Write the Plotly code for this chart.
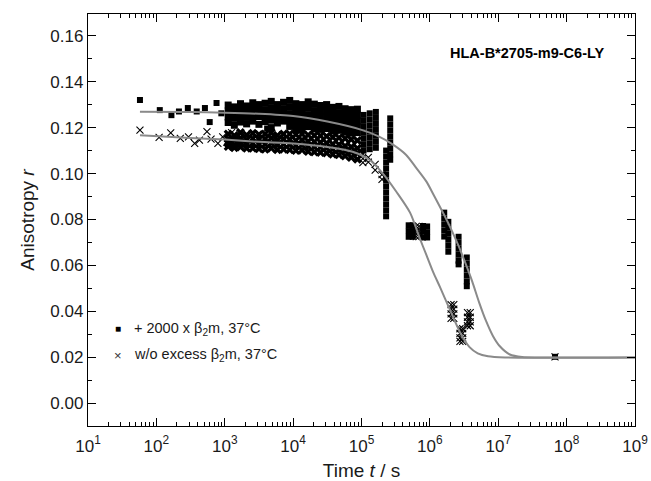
import plotly.graph_objects as go

# ---------------- data (times given as log10(t / s) readings) ----------------
# fitted curves
fit_hi_logt = [1.76, 2.50, 3.00, 3.50, 4.00, 4.50, 5.00, 5.25, 5.45, 5.65, 5.80, 5.95, 6.05, 6.20,
               6.30, 6.42, 6.52, 6.62, 6.72, 6.82, 6.92, 7.02, 7.17, 7.35, 7.60, 9.00]
fit_hi_r = [0.1269, 0.1268, 0.1265, 0.1260, 0.1250, 0.1226, 0.1190, 0.1162, 0.1128, 0.1082, 0.1025,
            0.0965, 0.0910, 0.0825, 0.0765, 0.0685, 0.0610, 0.0530, 0.0440, 0.0360, 0.0295, 0.0250,
            0.0213, 0.0202, 0.0200, 0.0200]
fit_lo_logt = [1.76, 2.50, 3.00, 3.50, 4.00, 4.50, 4.87, 5.12, 5.31, 5.51, 5.71, 5.85, 5.95, 6.05,
               6.15, 6.29, 6.44, 6.58, 6.70, 6.85, 7.10, 9.00]
fit_lo_r = [0.1167, 0.1155, 0.1148, 0.1138, 0.1131, 0.1116, 0.1095, 0.1059, 0.1001, 0.0921, 0.0830,
            0.0720, 0.0645, 0.0570, 0.0505, 0.0410, 0.0310, 0.0245, 0.0218, 0.0205, 0.0200, 0.0200]

# dense band columns (shared by both series)
band_logt = [3.05, 3.14, 3.23, 3.32, 3.41, 3.50, 3.59, 3.68, 3.77, 3.86, 3.95, 4.04, 4.13, 4.22,
             4.31, 4.40, 4.49, 4.58, 4.67, 4.76, 4.85, 4.94]
sq_band_r1 = [0.1298, 0.1290, 0.1304, 0.1294, 0.1308, 0.1300, 0.1306, 0.1314, 0.1300, 0.1310, 0.1318,
              0.1304, 0.1300, 0.1312, 0.1302, 0.1296, 0.1300, 0.1288, 0.1292, 0.1282, 0.1278, 0.1280]
sq_band_r2 = [0.1272, 0.1266, 0.1276, 0.1270, 0.1280, 0.1274, 0.1278, 0.1286, 0.1274, 0.1282, 0.1288,
              0.1278, 0.1272, 0.1284, 0.1274, 0.1270, 0.1272, 0.1262, 0.1264, 0.1256, 0.1252, 0.1254]
sq_band_r3 = [0.1246, 0.1240, 0.1250, 0.1244, 0.1254, 0.1248, 0.1252, 0.1258, 0.1248, 0.1256, 0.1260,
              0.1250, 0.1246, 0.1256, 0.1248, 0.1244, 0.1246, 0.1236, 0.1238, 0.1230, 0.1226, 0.1228]
sq_band_r4 = [0.1222, 0.1210, 0.1224, 0.1216, 0.1228, 0.1214, 0.1226, 0.1232, 0.1220, 0.1228, 0.1234,
              0.1222, 0.1220, 0.1230, 0.1218, 0.1216, 0.1220, 0.1210, 0.1212, 0.1204, 0.1200, 0.1202]
# lower squares row, later part of the band only
sq_band5_logt = [3.68, 3.95, 4.04, 4.13, 4.22, 4.31, 4.40, 4.49, 4.58, 4.67, 4.76, 4.85, 4.94]
sq_band5_r = [0.1200, 0.1205, 0.1198, 0.1196, 0.1204, 0.1194, 0.1192, 0.1196, 0.1186, 0.1188, 0.1180,
              0.1176, 0.1178]
x_band_r1 = [0.1172, 0.1165, 0.1178, 0.1168, 0.1175, 0.1170, 0.1172, 0.1178, 0.1166, 0.1172, 0.1172,
             0.1170, 0.1172, 0.1168, 0.1166, 0.1164, 0.1162, 0.1158, 0.1156, 0.1152, 0.1148, 0.1144]
x_band_r2 = [0.1150, 0.1145, 0.1155, 0.1148, 0.1152, 0.1150, 0.1150, 0.1155, 0.1145, 0.1150, 0.1148,
             0.1144, 0.1146, 0.1140, 0.1138, 0.1136, 0.1133, 0.1128, 0.1126, 0.1120, 0.1116, 0.1110]
x_band_r3 = [0.1132, 0.1125, 0.1134, 0.1128, 0.1130, 0.1128, 0.1128, 0.1132, 0.1124, 0.1128, 0.1126,
             0.1122, 0.1124, 0.1118, 0.1116, 0.1114, 0.1111, 0.1106, 0.1104, 0.1098, 0.1094, 0.1088]
x_band_r4 = [0.1118, 0.1112, 0.1116, 0.1110, 0.1110, 0.1108, 0.1106, 0.1110, 0.1104, 0.1106, 0.1104,
             0.1100, 0.1102, 0.1096, 0.1094, 0.1092, 0.1089, 0.1084, 0.1082, 0.1076, 0.1070, 0.1062]

# "+ 2000 x b2m, 37 C" individual points
sq_logt = [1.76, 2.05, 2.22, 2.33, 2.46, 2.59, 2.71, 2.78, 2.88, 2.95, 3.62, 4.06, 4.62,
           5.03, 5.03, 5.03, 5.03, 5.03, 5.03, 5.03,
           5.12, 5.12, 5.12, 5.12, 5.12, 5.12, 5.12,
           5.21, 5.21, 5.21, 5.21, 5.21, 5.21, 5.21,
           5.36, 5.36, 5.36, 5.36, 5.36, 5.36, 5.36, 5.36, 5.36, 5.36, 5.36, 5.36,
           5.42, 5.42, 5.42, 5.42, 5.42, 5.42, 5.42, 5.42,
           5.69, 5.69, 5.69, 5.75, 5.75, 5.75, 5.90, 5.90, 5.90, 5.96, 5.96, 5.96,
           6.21, 6.21, 6.21, 6.21, 6.21,
           6.27, 6.27, 6.27, 6.27, 6.27, 6.27,
           6.42, 6.42, 6.42, 6.42, 6.42, 6.42,
           6.54, 6.54, 6.54, 6.54, 6.54, 6.54,
           7.83]
sq_r = [0.1320, 0.1276, 0.1254, 0.1270, 0.1285, 0.1270, 0.1285, 0.1224, 0.1307, 0.1262, 0.1196, 0.1189, 0.1182,
        0.1255, 0.1229, 0.1203, 0.1177, 0.1151, 0.1125, 0.1100,
        0.1262, 0.1236, 0.1210, 0.1184, 0.1158, 0.1132, 0.1106,
        0.1268, 0.1242, 0.1216, 0.1190, 0.1164, 0.1138, 0.1112,
        0.1100, 0.1074, 0.1048, 0.1022, 0.0996, 0.0970, 0.0944, 0.0918, 0.0892, 0.0866, 0.0840, 0.0814,
        0.1240, 0.1214, 0.1188, 0.1162, 0.1136, 0.1110, 0.1084, 0.1060,
        0.0775, 0.0750, 0.0725, 0.0775, 0.0750, 0.0725, 0.0772, 0.0747, 0.0722, 0.0770, 0.0745, 0.0722,
        0.0830, 0.0804, 0.0778, 0.0752, 0.0726,
        0.0790, 0.0764, 0.0738, 0.0712, 0.0686, 0.0660,
        0.0725, 0.0699, 0.0673, 0.0647, 0.0621, 0.0605,
        0.0635, 0.0609, 0.0583, 0.0557, 0.0531, 0.0510,
        0.0203]

# "w/o excess b2m, 37 C" individual points
x_logt = [1.76, 2.04, 2.21, 2.35, 2.47, 2.56, 2.63, 2.74, 2.80, 2.90, 2.97, 3.03, 3.10, 3.20,
          5.02, 5.02, 5.02, 5.10, 5.10, 5.20, 5.20, 5.30, 5.30,
          5.80, 5.80, 5.80, 5.84, 5.84, 5.84,
          6.31, 6.31, 6.31, 6.31, 6.35, 6.35, 6.35, 6.35,
          6.44, 6.44, 6.44, 6.44, 6.48, 6.48, 6.48, 6.48,
          6.55, 6.55, 6.55, 6.55, 6.59, 6.59, 6.59, 6.59,
          7.83]
x_r = [0.1189, 0.1157, 0.1177, 0.1153, 0.1160, 0.1131, 0.1145, 0.1182, 0.1150, 0.1131, 0.1160, 0.1137, 0.1178, 0.1125,
       0.1085, 0.1065, 0.1048, 0.1070, 0.1050, 0.1040, 0.1015, 0.0995, 0.0975,
       0.0770, 0.0748, 0.0726, 0.0770, 0.0748, 0.0726,
       0.0430, 0.0410, 0.0390, 0.0370, 0.0430, 0.0410, 0.0390, 0.0370,
       0.0325, 0.0305, 0.0285, 0.0270, 0.0325, 0.0305, 0.0285, 0.0270,
       0.0395, 0.0375, 0.0355, 0.0338, 0.0395, 0.0375, 0.0355, 0.0338,
       0.0203]

x_tick_exp = [1, 2, 3, 4, 5, 6, 7, 8, 9]
y_ticks = [0.00, 0.02, 0.04, 0.06, 0.08, 0.10, 0.12, 0.14, 0.16]

title_text = "HLA-B*2705-m9-C6-LY"
legend_sq = "+ 2000 x β<sub>2</sub>m, 37°C"
legend_x = "w/o excess β<sub>2</sub>m, 37°C"

# ---------------- build ----------------
def to_t(logs):
    return [10 ** v for v in logs]

band_t = to_t(band_logt)
sq_band_t = band_t * 4 + to_t(sq_band5_logt)
sq_band_r = sq_band_r1 + sq_band_r2 + sq_band_r3 + sq_band_r4 + sq_band5_r
x_band_t = band_t * 4
x_band_r = x_band_r1 + x_band_r2 + x_band_r3 + x_band_r4

FONT = "Liberation Sans, Arial, sans-serif"
fig = go.Figure()

fig.add_trace(go.Scatter(x=x_band_t, y=x_band_r, mode="markers", showlegend=False,
                         marker=dict(symbol="x", size=8, color="black", line=dict(width=0))))
fig.add_trace(go.Scatter(x=to_t(x_logt), y=x_r, mode="markers", showlegend=False,
                         marker=dict(symbol="x-thin", size=7, color="black",
                                     line=dict(width=1.1, color="black"))))
fig.add_trace(go.Scatter(x=sq_band_t, y=sq_band_r, mode="markers", showlegend=False,
                         marker=dict(symbol="square", size=7, color="black", line=dict(width=0))))
fig.add_trace(go.Scatter(x=to_t(sq_logt), y=sq_r, mode="markers", showlegend=False,
                         marker=dict(symbol="square", size=6, color="black", line=dict(width=0))))

fig.add_trace(go.Scatter(x=to_t(fit_hi_logt), y=fit_hi_r, mode="lines", showlegend=False,
                         line=dict(color="#8a8a8a", width=2, shape="spline", smoothing=0.8)))
fig.add_trace(go.Scatter(x=to_t(fit_lo_logt), y=fit_lo_r, mode="lines", showlegend=False,
                         line=dict(color="#8a8a8a", width=2, shape="spline", smoothing=0.8)))

axis_common = dict(showline=True, linecolor="black", linewidth=1.3, mirror="ticks",
                   ticks="inside", ticklen=8, tickwidth=1.2, tickcolor="black",
                   showgrid=False, zeroline=False, automargin=False,
                   tickfont=dict(family=FONT, size=17, color="#1a1a1a"))

fig.update_xaxes(type="log", range=[1, 9],
                 tickmode="array", tickvals=[10 ** e for e in x_tick_exp],
                 ticktext=["10<sup>%d</sup>" % e for e in x_tick_exp],
                 ticklabelstandoff=4,
                 minor=dict(ticks="inside", ticklen=4, tickwidth=1, tickcolor="black", dtick="D1"),
                 title=dict(text="Time <i>t</i> / s", font=dict(family=FONT, size=19, color="#1a1a1a"),
                            standoff=12),
                 **axis_common)
fig.update_yaxes(range=[-0.0098, 0.1694], tickmode="array", tickvals=y_ticks,
                 ticktext=["%.2f" % v for v in y_ticks],
                 minor=dict(ticks="inside", ticklen=4, tickwidth=1, tickcolor="black", dtick=0.01),
                 title=dict(text="Anisotropy <i>r</i>", font=dict(family=FONT, size=19, color="#1a1a1a"),
                            standoff=10),
                 **axis_common)

fig.add_annotation(text="<b>%s</b>" % title_text, xref="paper", yref="paper", x=0.949, y=0.905,
                   xanchor="right", yanchor="middle", showarrow=False,
                   font=dict(family=FONT, size=14.5, color="black"))

# legend
fig.add_annotation(text="■", xref="paper", yref="paper", x=0.055, y=0.236, xanchor="center",
                   yanchor="middle", showarrow=False, font=dict(family=FONT, size=10, color="black"))
fig.add_annotation(text=legend_sq, xref="paper", yref="paper", x=0.08, y=0.236, xanchor="left",
                   yanchor="middle", showarrow=False, font=dict(family=FONT, size=14.5, color="#1a1a1a"))
fig.add_annotation(text="×", xref="paper", yref="paper", x=0.055, y=0.172, xanchor="center",
                   yanchor="middle", showarrow=False, font=dict(family=FONT, size=13, color="#333"))
fig.add_annotation(text=legend_x, xref="paper", yref="paper", x=0.08, y=0.172, xanchor="left",
                   yanchor="middle", showarrow=False, font=dict(family=FONT, size=14.5, color="#1a1a1a"))

fig.update_layout(width=651, height=481, margin=dict(l=88, r=16, t=14, b=55),
                  paper_bgcolor="white", plot_bgcolor="white", showlegend=False,
                  font=dict(family=FONT))

fig.write_html("out.html")
